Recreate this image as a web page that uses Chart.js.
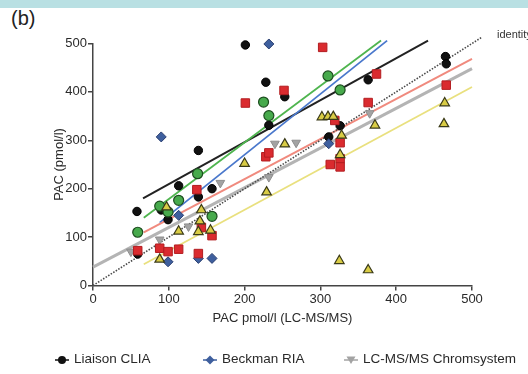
<!DOCTYPE html>
<html>
<head>
<meta charset="utf-8">
<script src="https://cdn.jsdelivr.net/npm/chart.js@4.4.1/dist/chart.umd.min.js"></script>
<style>
  html, body { margin: 0; padding: 0; background: #fff; }
  body { width: 528px; height: 374px; position: relative; overflow: hidden;
         font-family: "Liberation Sans", Arial, sans-serif; color: #333; }
  #band { position: absolute; left: 0; top: 0; width: 528px; height: 8px; background: #b9e0e3; }
  #panel { position: absolute; left: 11px; top: 7px; font-size: 20px; color: #222; }
  #ident { position: absolute; left: 497px; top: 28px; font-size: 11px; color: #333; }
  #wrap { position: absolute; left: 0; top: 0; width: 528px; height: 374px; }
  #legend { position: absolute; left: 0; top: 351px; width: 528px; font-size: 13.5px; color: #2a2a2a; }
  .item { position: absolute; top: 0; white-space: nowrap; }
  .item svg { position: absolute; top: 3px; }
</style>
</head>
<body>
<div id="band"></div>
<div id="panel">(b)</div>
<div id="wrap"><canvas id="c" width="528" height="374"></canvas></div>
<div id="ident">identity</div>
<div id="legend"></div>
<script>
// scatter values, [x, y] in pmol/l
const liaisonClia = [[58,153],[59,65],[90,156],[99,136],[113,206],[139,279],[139,183],[157,200],
  [201,497],[228,420],[232,331],[253,390],[311,307],[326,330],[363,425],[465,473],[466,458]];
const beckmanRia = [[90,307],[99,49],[113,145],[139,56],[157,56],[232,499],[311,293]];
const chromsystem = [[50,70],[88,95],[126,122],[168,212],[232,224],[240,293],[268,295],[365,356]];
const greenSeries = [[59,110],[88,164],[99,152],[113,176],[138,231],[157,143],[225,379],[232,351],
  [310,433],[326,404]];
const redSeries = [[59,72],[88,77],[99,70],[113,75],[137,198],[139,66],[143,120],[157,103],[201,377],
  [228,266],[232,274],[252,403],[303,492],[313,250],[319,341],[326,295],[326,262],[326,245],
  [363,378],[374,437],[466,414]];
const yellowSeries = [[88,54],[97,162],[113,112],[139,111],[141,133],[143,156],[155,114],[200,252],
  [229,193],[253,292],[302,348],[310,349],[317,349],[325,51],[328,310],[326,270],[363,32],
  [372,331],[463,334],[464,377]];

// regression lines, start and end points
const fitLiaison = [[66,180],[442,506]];
const fitGreen = [[67,140],[380,506]];
const fitBeckman = [[88,130],[388,506]];
const fitRed = [[67,110],[500,468]];
const fitChrom = [[0,38],[500,448]];
const fitYellow = [[67,44],[500,410]];
const identity = [[0,0],[513,513]];

const axisTicks = [0, 100, 200, 300, 400, 500];

const toXY = arr => arr.map(p => ({ x: p[0], y: p[1] }));

function pts(label, data, style) {
  return Object.assign({ type: 'scatter', label: label, data: toXY(data), order: 1, clip: false }, style);
}
function fit(label, data, color, width, dash) {
  return {
    type: 'line', label: label, data: toXY(data), borderColor: color, borderWidth: width,
    borderDash: dash || [], pointRadius: 0, fill: false, clip: false, order: 2
  };
}

const tickFont = { family: 'Liberation Sans', size: 13 };

new Chart(document.getElementById('c'), {
  data: {
    datasets: [
      fit('identity', identity, '#4a4a4a', 1.6, [1.5, 1.5]),
      fit('fit chrom', fitChrom, '#b4b4b4', 3),
      fit('fit yellow', fitYellow, '#e9e07e', 1.8),
      fit('fit red', fitRed, '#f08a7e', 2),
      fit('fit beckman', fitBeckman, '#4a78cc', 1.8),
      fit('fit green', fitGreen, '#4fb54f', 1.8),
      fit('fit liaison', fitLiaison, '#222', 2),
      pts('Yellow', yellowSeries, { pointStyle: 'triangle', pointRadius: 5.5, backgroundColor: '#d9cc45', borderColor: '#3a3a18', borderWidth: 1.2 }),
      pts('Red', redSeries, { pointStyle: 'rect', pointRadius: 6, backgroundColor: '#da2b2f', borderColor: '#b31d20', borderWidth: 1 }),
      pts('Green', greenSeries, { pointStyle: 'circle', pointRadius: 5, backgroundColor: '#47aa4c', borderColor: '#1d4d1f', borderWidth: 1.2 }),
      pts('LC-MS/MS Chromsystem', chromsystem, { pointStyle: 'triangle', rotation: 180, pointRadius: 5, backgroundColor: '#a3a3a3', borderColor: '#8e8e8e', borderWidth: 1 }),
      pts('Beckman RIA', beckmanRia, { pointStyle: 'rectRot', pointRadius: 5, backgroundColor: '#3e5f9e', borderColor: '#2a3f70', borderWidth: 1 }),
      pts('Liaison CLIA', liaisonClia, { pointStyle: 'circle', pointRadius: 4.2, backgroundColor: '#111', borderColor: '#000', borderWidth: 1 })
    ]
  },
  options: {
    responsive: false,
    animation: false,
    layout: { padding: { left: 0, right: 56, top: 43.5, bottom: 38.5 } },
    plugins: { legend: { display: false }, tooltip: { enabled: false } },
    scales: {
      x: {
        type: 'linear', min: 0, max: 500,
        afterBuildTicks: s => { s.ticks = axisTicks.map(v => ({ value: v })); },
        afterFit: s => { s.height = 50; },
        grid: { drawOnChartArea: false, tickLength: 5, color: '#444', lineWidth: 1.5 },
        border: { color: '#444', width: 1.5 },
        ticks: { font: tickFont, color: '#2a2a2a', padding: 1, maxRotation: 0 },
        title: { display: true, text: 'PAC pmol/l (LC-MS/MS)', font: tickFont, color: '#2a2a2a', padding: { top: 0, bottom: 9 } }
      },
      y: {
        type: 'linear', min: 0, max: 500,
        afterBuildTicks: s => { s.ticks = axisTicks.map(v => ({ value: v })); },
        afterFit: s => { s.width = 93; },
        grid: { drawOnChartArea: false, tickLength: 5, color: '#444', lineWidth: 1.5 },
        border: { color: '#444', width: 1.5 },
        ticks: { font: tickFont, color: '#2a2a2a', padding: 1 },
        title: { display: true, text: 'PAC (pmol/l)', font: tickFont, color: '#2a2a2a', padding: { top: 52, bottom: 0 } }
      }
    }
  }
});

// legend: line with marker, GraphPad style
const legendItems = [
  { label: 'Liaison CLIA', x: 54, shape: '<circle cx="8" cy="6" r="4" fill="#111"/>', line: '#111' },
  { label: 'Beckman RIA', x: 202, shape: '<polygon points="8,1.5 12.5,6 8,10.5 3.5,6" fill="#3e5f9e"/>', line: '#3e5f9e' },
  { label: 'LC-MS/MS Chromsystem', x: 343, shape: '<polygon points="3.5,2.5 12.5,2.5 8,10" fill="#a3a3a3"/>', line: '#a3a3a3' }
];
const legend = document.getElementById('legend');
legendItems.forEach(it => {
  const d = document.createElement('div');
  d.className = 'item';
  d.style.left = it.x + 'px';
  d.innerHTML = '<svg width="16" height="12"><line x1="1" y1="6" x2="15" y2="6" stroke="' + it.line +
    '" stroke-width="1.5"/>' + it.shape + '</svg><span style="margin-left:20px">' + it.label + '</span>';
  legend.appendChild(d);
});
</script>
</body>
</html>
